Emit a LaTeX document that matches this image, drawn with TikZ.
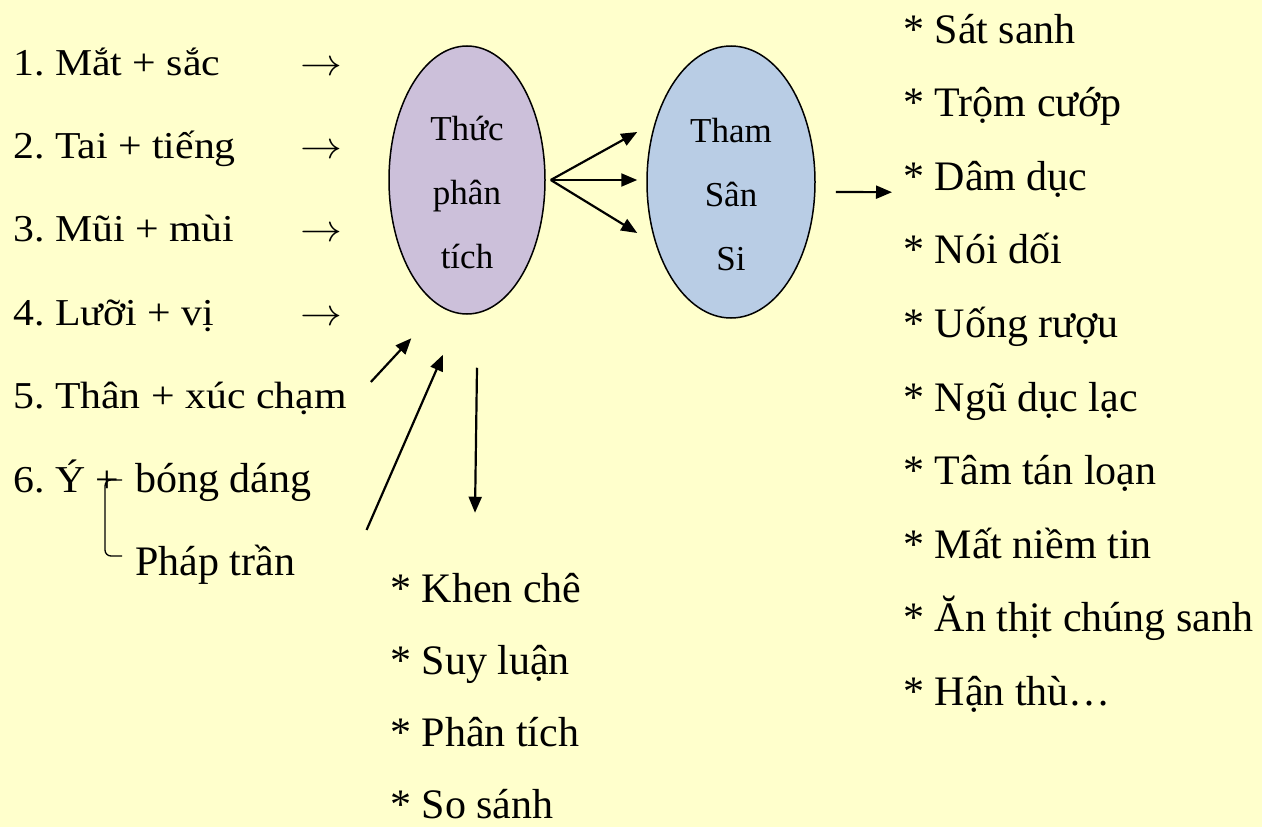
\RequirePackage{fix-cm}
\documentclass[tikz,border=0pt]{standalone}
\usepackage{fontspec}
\setmainfont{Liberation Serif}
\usetikzlibrary{arrows.meta, positioning, shapes.geometric}
\definecolor{colBack}{HTML}{FFFFCC}
\definecolor{colThuc}{HTML}{CCC0DA}
\definecolor{colTham}{HTML}{B9CDE5}
\newcommand{\wide}[1]{\scalebox{1.1}[1]{#1}}
\frenchspacing

\begin{document}
\begin{tikzpicture}[
		x=1pt, y=-1pt,
		sense/.style={anchor=base west, inner sep=0pt, font=\fontsize{38}{44}\selectfont},
		item/.style={anchor=base west, inner sep=0pt, font=\fontsize{42}{48}\selectfont},
		mind/.style={draw, ellipse, line width=1.5pt, inner sep=0pt, align=center, font=\fontsize{35}{64}\selectfont},
		arr/.style={-{Triangle[length=16pt, width=13pt]}, line width=2.2pt}
	]
		% ===== Background =====
		\fill[colBack] (0,0) rectangle (1262,827);
		\useasboundingbox (0,0) rectangle (1262,827);

		% ===== Six senses =====
		\foreach \txt [count=\i] in {1. Mắt + sắc, 2. Tai + tiếng, 3. Mũi + mùi, 4. Lưỡi + vị, 5. Thân + xúc chạm, 6. Ý +}
			\node[sense] (s\i) at (13, {75+(\i-1)*83.4}) {\wide{\txt}};
		\foreach \i in {1,...,4}
			\node[sense, anchor=base] (to\i) at (321, {75+(\i-1)*83.4}) {\wide{$\rightarrow$}};

		\node[item] (bong) at (135, 492) {bóng dáng};
		\node[item] (phap) at (135, 575) {Pháp trần};
		\draw[line width=1.3pt, rounded corners=6pt] ([xshift=-13pt, yshift=12pt]bong.base west) -- ++(-17,0) -- ++(0,76) -- ++(17,0);

		% ===== Ellipses =====
		\node[mind, fill=colThuc, minimum width=156pt, minimum height=268pt] (thuc) at (467, 180) {\rule{0pt}{50pt}Thức\\phân\\tích};
		\node[mind, fill=colTham, minimum width=168pt, minimum height=272pt] (tham) at (731, 182) {\rule{0pt}{50pt}Tham\\Sân\\Si};

		\coordinate (fork) at ([xshift=5pt]thuc.east);
		\draw[arr] (fork) -- ([xshift=-9pt, yshift=50pt]tham.west);
		\draw[arr] (fork) -- ([xshift=-9pt, yshift=2pt]tham.west);
		\draw[arr] (fork) -- ([xshift=-9pt, yshift=-51pt]tham.west);

		% ===== Results of Tham Sân Si =====
		\foreach \txt [count=\i] in {Sát sanh, Trộm cướp, Dâm dục, Nói dối, Uống rượu, Ngũ dục lạc, Tâm tán loạn, Mất niềm tin, Ăn thịt chúng sanh, Hận thù…}
			\node[item] (res\i) at (903, {43+(\i-1)*73.6}) {* \txt};
		\draw[arr] ([xshift=20pt, yshift=-10pt]tham.east) -- ([xshift=-11pt, yshift=-2pt]res3.base west);

		% ===== Inputs into Thức phân tích =====
		\draw[arr] ([xshift=24pt]s5.north east) -- ([yshift=-63pt]thuc.south west);
		\draw[arr] ([xshift=55pt, yshift=-38pt]bong.base east) -- ([xshift=-24pt, yshift=-40pt]thuc.south);

		% ===== Work of Thức phân tích =====
		\foreach \txt [count=\i] in {Khen chê, Suy luận, Phân tích, So sánh}
			\node[item] (act\i) at (390, {602+(\i-1)*72.3}) {* \txt};
		\draw[arr] ([xshift=10pt, yshift=-53pt]thuc.south) -- ([xshift=8pt, yshift=-198pt]thuc.south);
\end{tikzpicture}
\end{document}
